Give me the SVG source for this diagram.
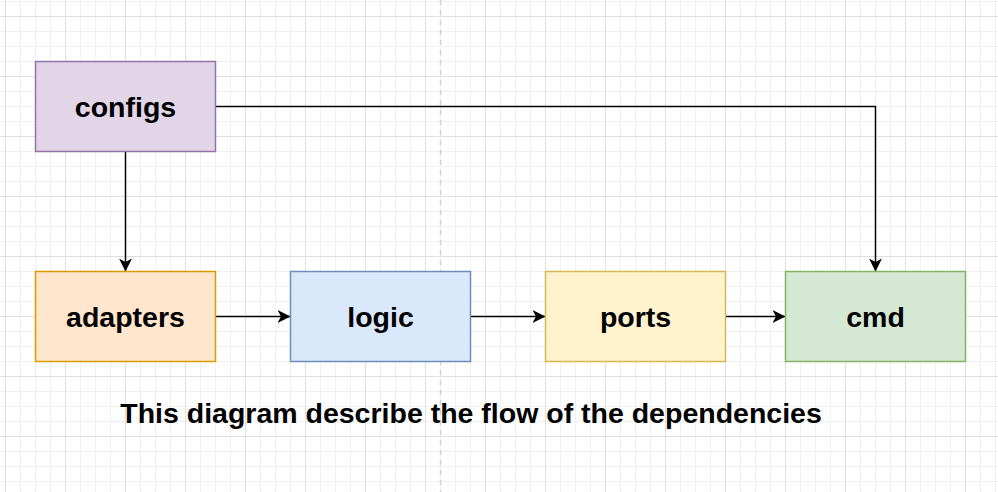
<svg xmlns="http://www.w3.org/2000/svg" width="998" height="492" viewBox="0 0 998 492">
<defs>
<pattern id="grid" x="5" y="16" width="60" height="60" patternUnits="userSpaceOnUse">
<path d="M15.5,0V60M30.5,0V60M45.5,0V60M0,15.5H60M0,30.5H60M0,45.5H60" stroke="#f1f1f1" stroke-width="1" fill="none"/>
<path d="M0.5,0V60M0,0.5H60" stroke="#e0e0e0" stroke-width="1" fill="none"/>
</pattern>
<marker id="arr" markerWidth="14" markerHeight="13" refX="13" refY="6.5" orient="auto" markerUnits="userSpaceOnUse">
<path d="M0,0 L13,6.5 L0,13 L3.5,6.5 Z" fill="#000"/>
</marker>
</defs>
<style>
.box{stroke-width:1.5}
.lbl{font-family:"Liberation Sans",Arial,sans-serif;font-weight:bold;font-size:28.5px;fill:#000;text-anchor:middle}
.edge{fill:none;stroke:#000;stroke-width:1.5;marker-end:url(#arr)}
</style>
<rect width="998" height="492" fill="#fff"/>
<rect width="998" height="492" fill="url(#grid)"/>
<path d="M440.5,0V492" stroke="#d0d0d0" stroke-width="1.5" stroke-dasharray="5,5"/>
<g id="connectors">
<path class="edge" d="M125.5,151.5V271.5"/>
<path class="edge" d="M215.5,106.5H875.5V271.5"/>
<path class="edge" d="M215.5,316.5H290.5"/>
<path class="edge" d="M470.5,316.5H545.5"/>
<path class="edge" d="M725.5,316.5H785.5"/>
</g>
<g id="configs">
<rect class="box" x="35.5" y="61.5" width="180" height="90" fill="#e1d5e7" stroke="#9673a6"/>
<text class="lbl" x="125.5" y="116.5">configs</text>
</g>
<g id="adapters">
<rect class="box" x="35.5" y="271.5" width="180" height="90" fill="#ffe6cc" stroke="#d79b00"/>
<text class="lbl" x="125.5" y="326.5">adapters</text>
</g>
<g id="logic">
<rect class="box" x="290.5" y="271.5" width="180" height="90" fill="#dae8fc" stroke="#6c8ebf"/>
<text class="lbl" x="380.5" y="326.5">logic</text>
</g>
<g id="ports">
<rect class="box" x="545.5" y="271.5" width="180" height="90" fill="#fff2cc" stroke="#d6b656"/>
<text class="lbl" x="635.5" y="326.5">ports</text>
</g>
<g id="cmd">
<rect class="box" x="785.5" y="271.5" width="180" height="90" fill="#d5e8d4" stroke="#82b366"/>
<text class="lbl" x="875.5" y="326.5">cmd</text>
</g>
<g id="caption">
<text class="lbl" x="471" y="423">This diagram describe the flow of the dependencies</text>
</g>
</svg>
